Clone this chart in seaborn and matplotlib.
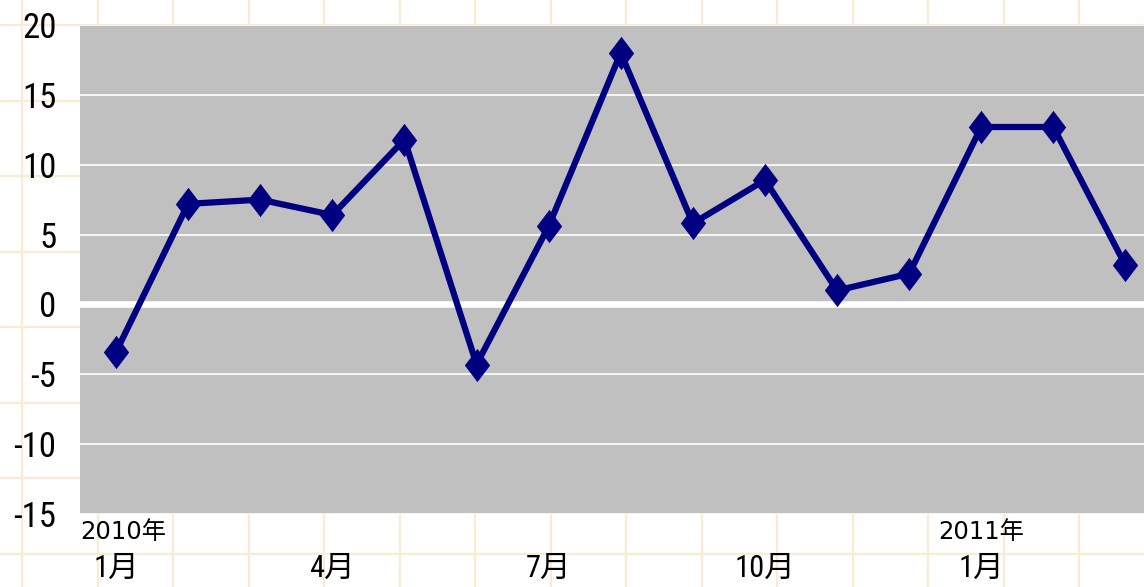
import numpy as np
import pandas as pd
import matplotlib
matplotlib.use("Agg")
import matplotlib.pyplot as plt
from matplotlib import font_manager
from matplotlib.patches import Rectangle
import seaborn as sns

# ------------------ DATA ------------------
months = ["2010-01", "2010-02", "2010-03", "2010-04", "2010-05", "2010-06",
          "2010-07", "2010-08", "2010-09", "2010-10", "2010-11", "2010-12",
          "2011-01", "2011-02", "2011-03"]
values = [-3.4, 7.2, 7.5, 6.4, 11.8, -4.3, 5.6, 18.0, 5.8, 8.9, 1.0, 2.2, 12.7, 12.7, 2.8]
tick_pos = [0, 3, 6, 9, 12]
tick_labels = ["1月", "4月", "7月", "10月", "1月"]
year_labels = ["2010年", "2011年"]

# ------------------ STYLE ------------------
W, H, DPI = 1144, 587, 100
NAVY = "#000080"
PLOT_BG = "#C0C0C0"
PAPER = "#FAEBD2"

installed = {f.name for f in font_manager.fontManager.ttflist}
narrow = [n for n in ["Liberation Sans Narrow", "DejaVu Sans Condensed",
                      "Roboto Condensed", "Open Sans Condensed", "Liberation Sans"]
          if n in installed][:1]

sns.set_style("white")
plt.rcParams["font.family"] = narrow + ["Noto Sans CJK JP", "DejaVu Sans"]
plt.rcParams["axes.unicode_minus"] = False
plt.rcParams["text.color"] = "black"
plt.rcParams["xtick.color"] = "black"
plt.rcParams["ytick.color"] = "black"

df = pd.DataFrame({"month": months, "value": values})
df["pos"] = np.arange(len(df))

fig = plt.figure(figsize=(W / DPI, H / DPI), dpi=DPI, facecolor="white")

# graph-paper background in pixel coords
bg = fig.add_axes([0, 0, 1, 1], zorder=0)
bg.set_xlim(0, W)
bg.set_ylim(H, 0)
bg.axis("off")
for x in np.arange(22, W, 75.5):
    bg.axvline(x, color=PAPER, lw=1.6)
for y in np.arange(25, H, 75.5):
    bg.axhline(y, color=PAPER, lw=1.6)
bg.add_patch(Rectangle((76.5, 20), W, 499.5, facecolor="white", edgecolor="none"))

# main plot area (right side runs off the picture)
left_px, right_px, top_px, bot_px = 80, 1161.5, 25, 514
ax = fig.add_axes([left_px / W, (H - bot_px) / H,
                   (right_px - left_px) / W, (bot_px - top_px) / H], zorder=1)
ax.set_facecolor(PLOT_BG)
for s in ax.spines.values():
    s.set_visible(False)

ax.set_xlim(-0.5, len(df) - 0.5)
ax.set_ylim(-15, 20)
ax.set_yticks(range(-15, 21, 5))
ax.yaxis.grid(True, color="white", lw=1.2)
ax.set_axisbelow(True)
ax.axhline(0, color="white", lw=4.7, zorder=1.5)

diamond = [(0, 1), (0.76, 0), (0, -1), (-0.76, 0), (0, 1)]
sns.lineplot(data=df, x="pos", y="value", ax=ax, color=NAVY, lw=4.5,
             marker=diamond, markersize=24, markeredgewidth=0, zorder=3)

ax.set_xticks(tick_pos)
ax.set_xticklabels(tick_labels, fontsize=22)
ax.tick_params(axis="x", length=0, pad=29)
ax.tick_params(axis="y", length=0, pad=17, labelsize=25)
ax.set_xlabel("")
ax.set_ylabel("")

# year markers under the first month of each year
trans = ax.get_xaxis_transform()
year_font = ["DejaVu Sans", "Noto Sans CJK JP"]
ax.text(-0.5, -0.037, year_labels[0], transform=trans, ha="left", va="center",
        fontsize=17.5, family=year_font)
ax.text(12, -0.037, year_labels[1], transform=trans, ha="center", va="center",
        fontsize=17.5, family=year_font)

fig.savefig("out.png", dpi=DPI, facecolor="white")
